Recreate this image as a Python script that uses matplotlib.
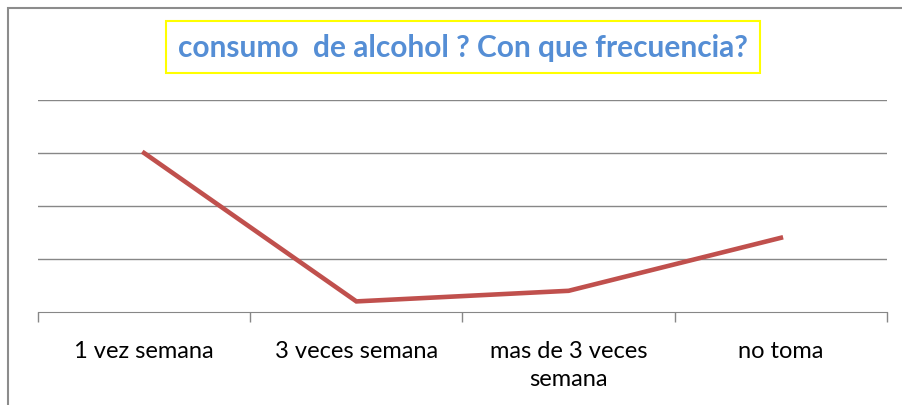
import matplotlib.pyplot as plt
from matplotlib.patches import Rectangle

categorias = ['1 vez semana', '3 veces semana', 'mas de 3 veces\nsemana', 'no toma']
valores = [15, 1, 2, 7]

fig = plt.figure(figsize=(9.03, 4.06), dpi=100)
ax = fig.add_axes([38/903, 1-313/406, (887-38)/903, (313-101)/406])

x = range(len(categorias))
ax.plot(x, valores, color='#C0504D', linewidth=3.3, solid_joinstyle='miter')

ax.set_xlim(-0.5, len(categorias) - 0.5)
ax.set_ylim(0, 20)
ax.set_yticks([5, 10, 15, 20])
ax.yaxis.grid(True, color='#878787', linewidth=1)
ax.tick_params(axis='y', length=0, labelleft=False)

ax.set_xticks(list(x))
ax.set_xticklabels(categorias, fontsize=17, family='Lato', linespacing=1.4)
ax.set_xticks([i - 0.5 for i in range(len(categorias) + 1)], minor=True)
ax.tick_params(axis='x', which='major', length=0, pad=20)
ax.tick_params(axis='x', which='minor', length=7, color='#878787', width=1)

for s in ['top', 'right', 'left']:
    ax.spines[s].set_visible(False)
ax.spines['bottom'].set_color('#878787')
ax.set_axisbelow(True)

# marco exterior del grafico
fig.patches.append(Rectangle((8/903, -0.1), 1.2, 1 - 9/406 + 0.1, transform=fig.transFigure,
                             fill=False, edgecolor='#8C8C8C', linewidth=1.5))

fig.text(463/903, 1-48/406, 'consumo  de alcohol ? Con que frecuencia?', ha='center', va='center',
         fontsize=21.5, fontweight='bold', color='#558ED5', family='Lato',
         bbox=dict(boxstyle='square,pad=0.4', facecolor='white', edgecolor='#FFFF00', linewidth=1.5))

fig.savefig('out.png', dpi=100)
